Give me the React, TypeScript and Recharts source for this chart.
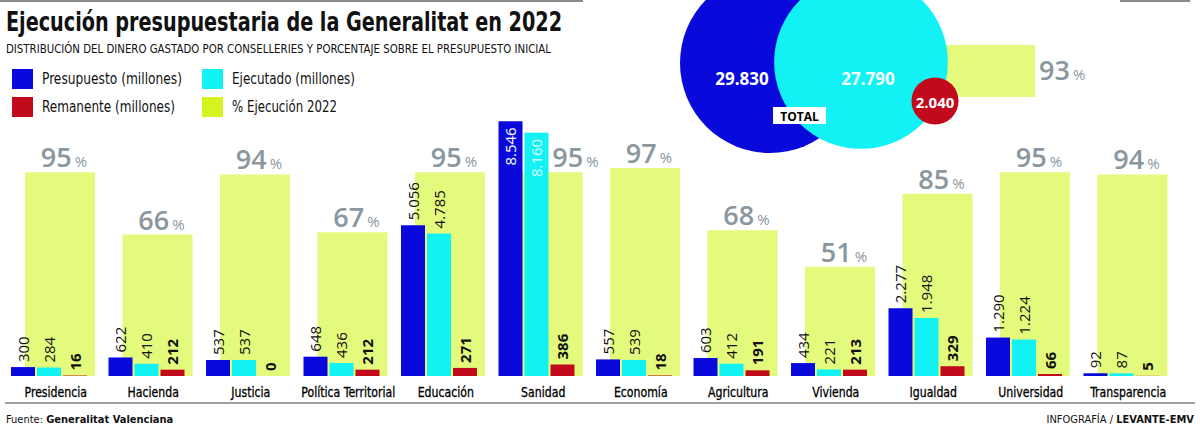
import React from 'react';
import {
  ComposedChart,
  Bar,
  XAxis,
  YAxis,
  LabelList,
  Legend,
  ScatterChart,
  Scatter,
  ZAxis,
  Cell,
} from 'recharts';

// ---------- data ----------
const categories = [
  'Presidencia',
  'Hacienda',
  'Justicia',
  'Política Territorial',
  'Educación',
  'Sanidad',
  'Economía',
  'Agricultura',
  'Vivienda',
  'Igualdad',
  'Universidad',
  'Transparencia',
];
const presupuesto = [300, 622, 537, 648, 5056, 8546, 557, 603, 434, 2277, 1290, 92];
const ejecutado = [284, 410, 537, 436, 4785, 8160, 539, 412, 221, 1948, 1224, 87];
const remanente = [16, 212, 0, 212, 271, 386, 18, 191, 213, 329, 66, 5];
const ejecucion = [95, 66, 94, 67, 95, 95, 97, 68, 51, 85, 95, 94];

const totalNames = ['Presupuesto', 'Ejecutado', 'Remanente'];
const totalValues = [29830, 27790, 2040];
const totalEjecucion = 93;

// ---------- style ----------
const BLUE = '#0909dc';
const CYAN = '#12f1f4';
const RED = '#c20a1d';
const YELLOW = '#e4fa7c';
const YELLOW_LEG = '#d5f31e';
const GREY = '#8a979f';
const COND = "'Liberation Sans Narrow', 'DejaVu Sans Condensed', 'Arial Narrow', sans-serif";
const SANS = "'Open Sans', 'Noto Sans', sans-serif";

const fmt = (v: number) => String(v).replace(/\B(?=(\d{3})+(?!\d))/g, '.');

const data = categories.map((name, i) => ({
  name,
  presupuesto: presupuesto[i],
  ejecutado: ejecutado[i],
  remanente: remanente[i],
  ejecucion: ejecucion[i],
}));

// layout of the "total" bubbles (pixel positions inside the bubble chart)
const totalLayout = [
  { cx: 130, cy: 63, dx: -28, dy: 15, fs: 17 },
  { cx: 221, cy: 62, dx: 7, dy: 16, fs: 17 },
  { cx: 295, cy: 101, dx: 0, dy: 1, fs: 15 },
];
const totalColors = [BLUE, CYAN, RED];
const totalData = totalValues.map((v, i) => ({
  name: totalNames[i],
  value: v,
  cx: totalLayout[i].cx,
  cy: totalLayout[i].cy,
}));

// ---------- label renderers ----------
const makeValueLabel = (weight: number, insideFill: string) => (props: any) => {
  const { x, y, width, value } = props;
  const cx = Number(x) + Number(width) / 2;
  const top = Number(y);
  const inside = top < 150;
  const ty = inside ? top + 6 : top - 5;
  return (
    <text
      x={cx}
      y={ty}
      transform={`rotate(-90 ${cx} ${ty})`}
      textAnchor={inside ? 'end' : 'start'}
      dominantBaseline="central"
      fontSize={15}
      fontWeight={weight}
      fill={inside ? insideFill : '#111'}
      fontFamily={SANS}
    >
      {fmt(Number(value))}
    </text>
  );
};

const PctLabel = (props: any) => {
  const { x, y, width, value, index } = props;
  const shift = presupuesto[index] > 7000 ? 28 : 4;
  const cx = Number(x) + Number(width) / 2 + shift;
  return (
    <text x={cx} y={Number(y) - 5} textAnchor="middle" fill={GREY} fontFamily={SANS}>
      <tspan fontSize={27} fontWeight={600}>{value}</tspan>
      <tspan fontSize={15} dx={3}>%</tspan>
    </text>
  );
};

const CatTick = (props: any) => {
  const { x, y, payload } = props;
  const tx = Number(x) + 7;
  const ty = Number(y) + 16;
  return (
    <text
      transform={`translate(${tx} ${ty}) scale(0.84 1)`}
      x={0}
      y={0}
      textAnchor="middle"
      dominantBaseline="central"
      fontSize={14.5}
      fill="#000"
      stroke="#000"
      strokeWidth={0.3}
      fontFamily={COND}
    >
      {payload.value}
    </text>
  );
};

const legendSpec: Record<string, { label: string; color: string; x: number; row: number; w: number }> = {
  presupuesto: { label: 'Presupuesto (millones)', color: BLUE, x: 12, row: 0, w: 140 },
  ejecutado: { label: 'Ejecutado (millones)', color: CYAN, x: 202, row: 0, w: 123 },
  remanente: { label: 'Remanente (millones)', color: RED, x: 12, row: 1, w: 133 },
  ejecucion: { label: '% Ejecución 2022', color: YELLOW_LEG, x: 202, row: 1, w: 105 },
};

const LegendContent = (props: any) => {
  const payload = props.payload || [];
  return (
    <svg width={380} height={60} style={{ display: 'block' }}>
      {payload.map((p: any) => {
        const s = legendSpec[p.dataKey];
        if (!s) return null;
        const yTop = s.row * 28;
        return (
          <g key={p.dataKey}>
            <rect x={s.x} y={yTop} width={21} height={20} fill={s.color} />
            <text
              x={s.x + 30}
              y={yTop + 10}
              dominantBaseline="central"
              fontSize={15}
              fill="#111"
              fontFamily={COND}
              textLength={s.w}
              lengthAdjust="spacingAndGlyphs"
            >
              {s.label}
            </text>
          </g>
        );
      })}
    </svg>
  );
};

const BubbleLabel = (props: any) => {
  const { x, y, width, height, value, index } = props;
  const l = totalLayout[index];
  const cx = Number(x) + Number(width) / 2 + l.dx;
  const cy = Number(y) + Number(height) / 2 + l.dy;
  return (
    <text
      x={cx}
      y={cy}
      textAnchor="middle"
      dominantBaseline="central"
      fontSize={l.fs}
      fontWeight={700}
      fill={index === 1 ? '#f2ffff' : '#fff'}
      fontFamily={SANS}
    >
      {fmt(Number(value))}
    </text>
  );
};

// zero values still get a (practically invisible) bar so that their label is drawn
const zeroSafe = (v: any) => (Number(v) === 0 ? 0.01 : 0);

export default function App() {
  const abs: React.CSSProperties = { position: 'absolute', left: 0, top: 0 };
  return (
    <div style={{ position: 'absolute', left: 0, top: 0, width: 1200, height: 427, background: '#fff', overflow: 'hidden' }}>
      {/* background layer: title, rules, footer */}
      <svg width={1200} height={427} style={abs}>
        <rect x={0} y={0} width={583} height={2} fill="#8a8a8a" />
        <rect x={1120} y={0} width={70} height={2} fill="#8a8a8a" />
        <text
          x={6}
          y={31}
          fontSize={27}
          fontWeight={700}
          fill="#111"
          fontFamily={COND}
          textLength={556}
          lengthAdjust="spacingAndGlyphs"
        >
          Ejecución presupuestaria de la Generalitat en 2022
        </text>
        <text
          x={6}
          y={53}
          fontSize={13}
          fill="#111"
          fontFamily={COND}
          textLength={545}
          lengthAdjust="spacingAndGlyphs"
        >
          DISTRIBUCIÓN DEL DINERO GASTADO POR CONSELLERIES Y PORCENTAJE SOBRE EL PRESUPUESTO INICIAL
        </text>
        <rect x={5} y={402} width={1190} height={2} fill="#a0a0a0" />
        <text x={6} y={423} fontSize={11} fill="#111" fontFamily={COND}>
          Fuente: <tspan fontWeight={700}>Generalitat Valenciana</tspan>
        </text>
        <text x={1194} y={423} fontSize={11} fill="#111" fontFamily={COND} textAnchor="end">
          INFOGRAFÍA / <tspan fontWeight={700}>LEVANTE-EMV</tspan>
        </text>
        <rect x={940} y={45} width={95} height={52} fill={YELLOW} />
      </svg>

      {/* main chart */}
      <div style={abs}>
        <ComposedChart
          width={1200}
          height={427}
          data={data}
          margin={{ top: 78, right: 19, bottom: 0, left: 0 }}
          barGap={2}
        >
          <XAxis
            xAxisId="a"
            dataKey="name"
            height={51}
            padding={{ left: 0, right: 11 }}
            tickLine={false}
            axisLine={false}
            tickSize={0}
            tickMargin={0}
            interval={0}
            tick={<CatTick />}
          />
          <XAxis xAxisId="b" dataKey="name" hide padding={{ left: 11, right: 0 }} />
          <YAxis yAxisId="m" hide domain={[0, 10000]} />
          <YAxis yAxisId="p" hide domain={[0, 139]} />
          <Legend
            layout="horizontal"
            verticalAlign="middle"
            align="center"
            content={<LegendContent />}
            wrapperStyle={{ position: 'absolute', left: 0, top: 69, width: 380, height: 60 }}
          />
          <Bar
            dataKey="ejecucion"
            name="% Ejecución 2022"
            xAxisId="b"
            yAxisId="p"
            barSize={70}
            fill={YELLOW}
            isAnimationActive={false}
          >
            <LabelList dataKey="ejecucion" content={<PctLabel />} />
          </Bar>
          <Bar
            dataKey="presupuesto"
            name="Presupuesto (millones)"
            xAxisId="a"
            yAxisId="m"
            barSize={24}
            fill={BLUE}
            isAnimationActive={false}
          >
            <LabelList dataKey="presupuesto" content={makeValueLabel(400, '#ffffff')} />
          </Bar>
          <Bar
            dataKey="ejecutado"
            name="Ejecutado (millones)"
            xAxisId="a"
            yAxisId="m"
            barSize={24}
            fill={CYAN}
            isAnimationActive={false}
          >
            <LabelList dataKey="ejecutado" content={makeValueLabel(400, '#d6ffff')} />
          </Bar>
          <Bar
            dataKey="remanente"
            name="Remanente (millones)"
            xAxisId="a"
            yAxisId="m"
            barSize={24}
            fill={RED}
            minPointSize={zeroSafe}
            isAnimationActive={false}
          >
            <LabelList dataKey="remanente" content={makeValueLabel(700, '#ffffff')} />
          </Bar>
        </ComposedChart>
      </div>

      {/* total bubbles */}
      <div style={{ position: 'absolute', left: 640, top: 0 }}>
        <ScatterChart width={460} height={170} margin={{ top: 0, right: 0, bottom: 0, left: 0 }}>
          <XAxis type="number" dataKey="cx" domain={[0, 460]} hide />
          <YAxis type="number" dataKey="cy" domain={[0, 170]} reversed hide />
          <ZAxis type="number" dataKey="value" domain={[0, 29830]} range={[0, Math.PI * 90 * 90]} />
          <Scatter data={totalData} isAnimationActive={false}>
            {totalData.map((d, i) => (
              <Cell key={d.name} fill={totalColors[i]} />
            ))}
            <LabelList dataKey="value" content={<BubbleLabel />} />
          </Scatter>
        </ScatterChart>
      </div>

      {/* overlay: TOTAL tag and total percentage */}
      <svg width={1200} height={427} style={{ ...abs, pointerEvents: 'none' }}>
        <rect x={773} y={107} width={53} height={17} fill="#fff" />
        <text x={799.5} y={116} textAnchor="middle" dominantBaseline="central" fontSize={12} fontWeight={700} fill="#000" fontFamily={SANS}>
          TOTAL
        </text>
        <text x={1039} y={80} fill={GREY} fontFamily={SANS}>
          <tspan fontSize={27} fontWeight={600}>{totalEjecucion}</tspan>
          <tspan fontSize={15} dx={3}>%</tspan>
        </text>
      </svg>
    </div>
  );
}
